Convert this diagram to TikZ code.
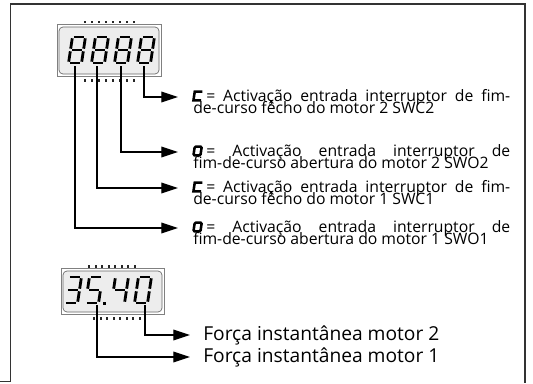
\documentclass[tikz,border=0pt]{standalone}
\usepackage{fontspec}
\setmainfont{Open Sans}
\usetikzlibrary{arrows.meta}
\tikzset{
  seg/.style={line width=2.1pt, line cap=butt},
  icon/.style={line width=1.9pt, line join=miter},
  frame/.style={line width=1.4pt, draw=black!80},
  disp/.style={draw=black!60, line width=0.5pt, fill=black!7, rounded corners=3pt},
  dispout/.style={draw=black!50, line width=0.5pt},
  conn/.style={line width=0.95pt, -{Triangle[length=12.5pt,width=8pt]}},
  lab/.style={font=\fontsize{11.8}{12}\selectfont, inner sep=0pt, anchor=base west},
  flab/.style={font=\fontsize{14.4}{15}\selectfont, inner sep=0pt, anchor=base west},
  dot/.style={fill=black!85}
}
\newcommand{\SGa}{\draw[seg] (-5.2,-13) -- (5.2,-13);}
\newcommand{\SGb}{\draw[seg] (6.5,-11.7) -- (6.5,-1.3);}
\newcommand{\SGc}{\draw[seg] (6.5,1.3) -- (6.5,11.7);}
\newcommand{\SGd}{\draw[seg] (-5.2,13) -- (5.2,13);}
\newcommand{\SGe}{\draw[seg] (-6.5,1.3) -- (-6.5,11.7);}
\newcommand{\SGf}{\draw[seg] (-6.5,-11.7) -- (-6.5,-1.3);}
\newcommand{\SGg}{\draw[seg] (-5.2,0) -- (5.2,0);}
\newcommand{\sdig}[3]{\begin{scope}[shift={(#1,#2)},xslant=0.15]\foreach \s in {#3}{\csname SG\s\endcsname}\end{scope}}
\newcommand{\icoC}[2]{\begin{scope}[shift={(#1,#2)},xslant=0.15]\draw[icon] (4.2,-4.3) -- (-3.4,-4.3) -- (-3.4,4.3) -- (4.2,4.3);\end{scope}}
\newcommand{\icoO}[2]{\begin{scope}[shift={(#1,#2)},xslant=0.15]\draw[icon,rounded corners=0.8pt] (-3.4,-4.3) rectangle (3.6,4.3);\end{scope}}
\begin{document}
\begin{tikzpicture}[x=0.75pt,y=-0.75pt]
\useasboundingbox (0,0) rectangle (533,383);
% frame
\draw[frame] (0,381.5) -- (10.5,381.5) -- (10.5,4) -- (525,4) -- (525,383);

% ---- display 1
\draw[dispout] (57,24) rectangle (161,76);
\draw[disp] (59,27) rectangle (159,74);
\foreach \i in {0,...,7} \fill[dot] (84+\i*7,20.5) rectangle ++(2.2,2.6);
\foreach \i in {0,...,7} \fill[dot] (84+\i*7,79) rectangle ++(2.2,2.6);
\sdig{77}{50}{a,b,c,d,e,f,g}
\sdig{100}{50}{a,b,c,d,e,f,g}
\sdig{123}{50}{a,b,c,d,e,f,g}
\sdig{146}{50}{a,b,c,d,e,f,g}

\coordinate (s1) at (144,66);
\coordinate (s2) at (121,66);
\coordinate (s3) at (97,66);
\coordinate (s4) at (75,66);
\coordinate (e1) at (178,97);
\coordinate (e2) at (178,152);
\coordinate (e3) at (178,188);
\coordinate (e4) at (178,228);
\draw[conn] (s1) |- (e1);
\draw[conn] (s2) |- (e2);
\draw[conn] (s3) |- (e3);
\draw[conn] (s4) |- (e4);

% labels
\icoC{197.5}{96}
\node[lab] (l1a) at (206,101) {\makebox[228pt][s]{= Activação entrada interruptor de fim-}};
\node[lab] (l1b) at (193,113) {de-curso fêcho do motor 2 SWC2};
\icoO{197.5}{151}
\node[lab] (l2a) at (206,156) {\makebox[228pt][s]{= Activação entrada interruptor de}};
\node[lab] (l2b) at (193,168) {fim-de-curso abertura do motor 2 SWO2};
\icoC{197.5}{187}
\node[lab] (l3a) at (206,192) {\makebox[228pt][s]{= Activação entrada interruptor de fim-}};
\node[lab] (l3b) at (193,204) {de-curso fêcho do motor 1 SWC1};
\icoO{197.5}{227}
\node[lab] (l4a) at (206,232) {\makebox[228pt][s]{= Activação entrada interruptor de}};
\node[lab] (l4b) at (193,244) {fim-de-curso abertura do motor 1 SWO1};

% ---- display 2
\draw[dispout] (61,268) rectangle (164,314);
\draw[disp] (63,271) rectangle (162,312);
\foreach \i in {0,...,7} \fill[dot] (88+\i*6.5,265) rectangle ++(2.2,2.6);
\foreach \i in {0,...,7} \fill[dot] (93+\i*6.5,317) rectangle ++(2.2,2.6);
\sdig{73}{290}{a,b,c,d,g}
\sdig{94}{290}{a,f,g,c,d}
\fill (102.5,301.5) rectangle ++(3,3);
\sdig{120}{290}{f,g,b,c}
\sdig{143}{290}{a,b,c,d,e,f}

\coordinate (t1) at (145,305);
\coordinate (t2) at (97,305);
\coordinate (f1) at (190,335);
\coordinate (f2) at (190,357);
\draw[conn] (t1) |- (f1);
\draw[conn] (t2) |- (f2);
\node[flab] (m2) at (203,340) {Força instantânea motor 2};
\node[flab] (m1) at (203,362) {Força instantânea motor 1};
\end{tikzpicture}
\end{document}
